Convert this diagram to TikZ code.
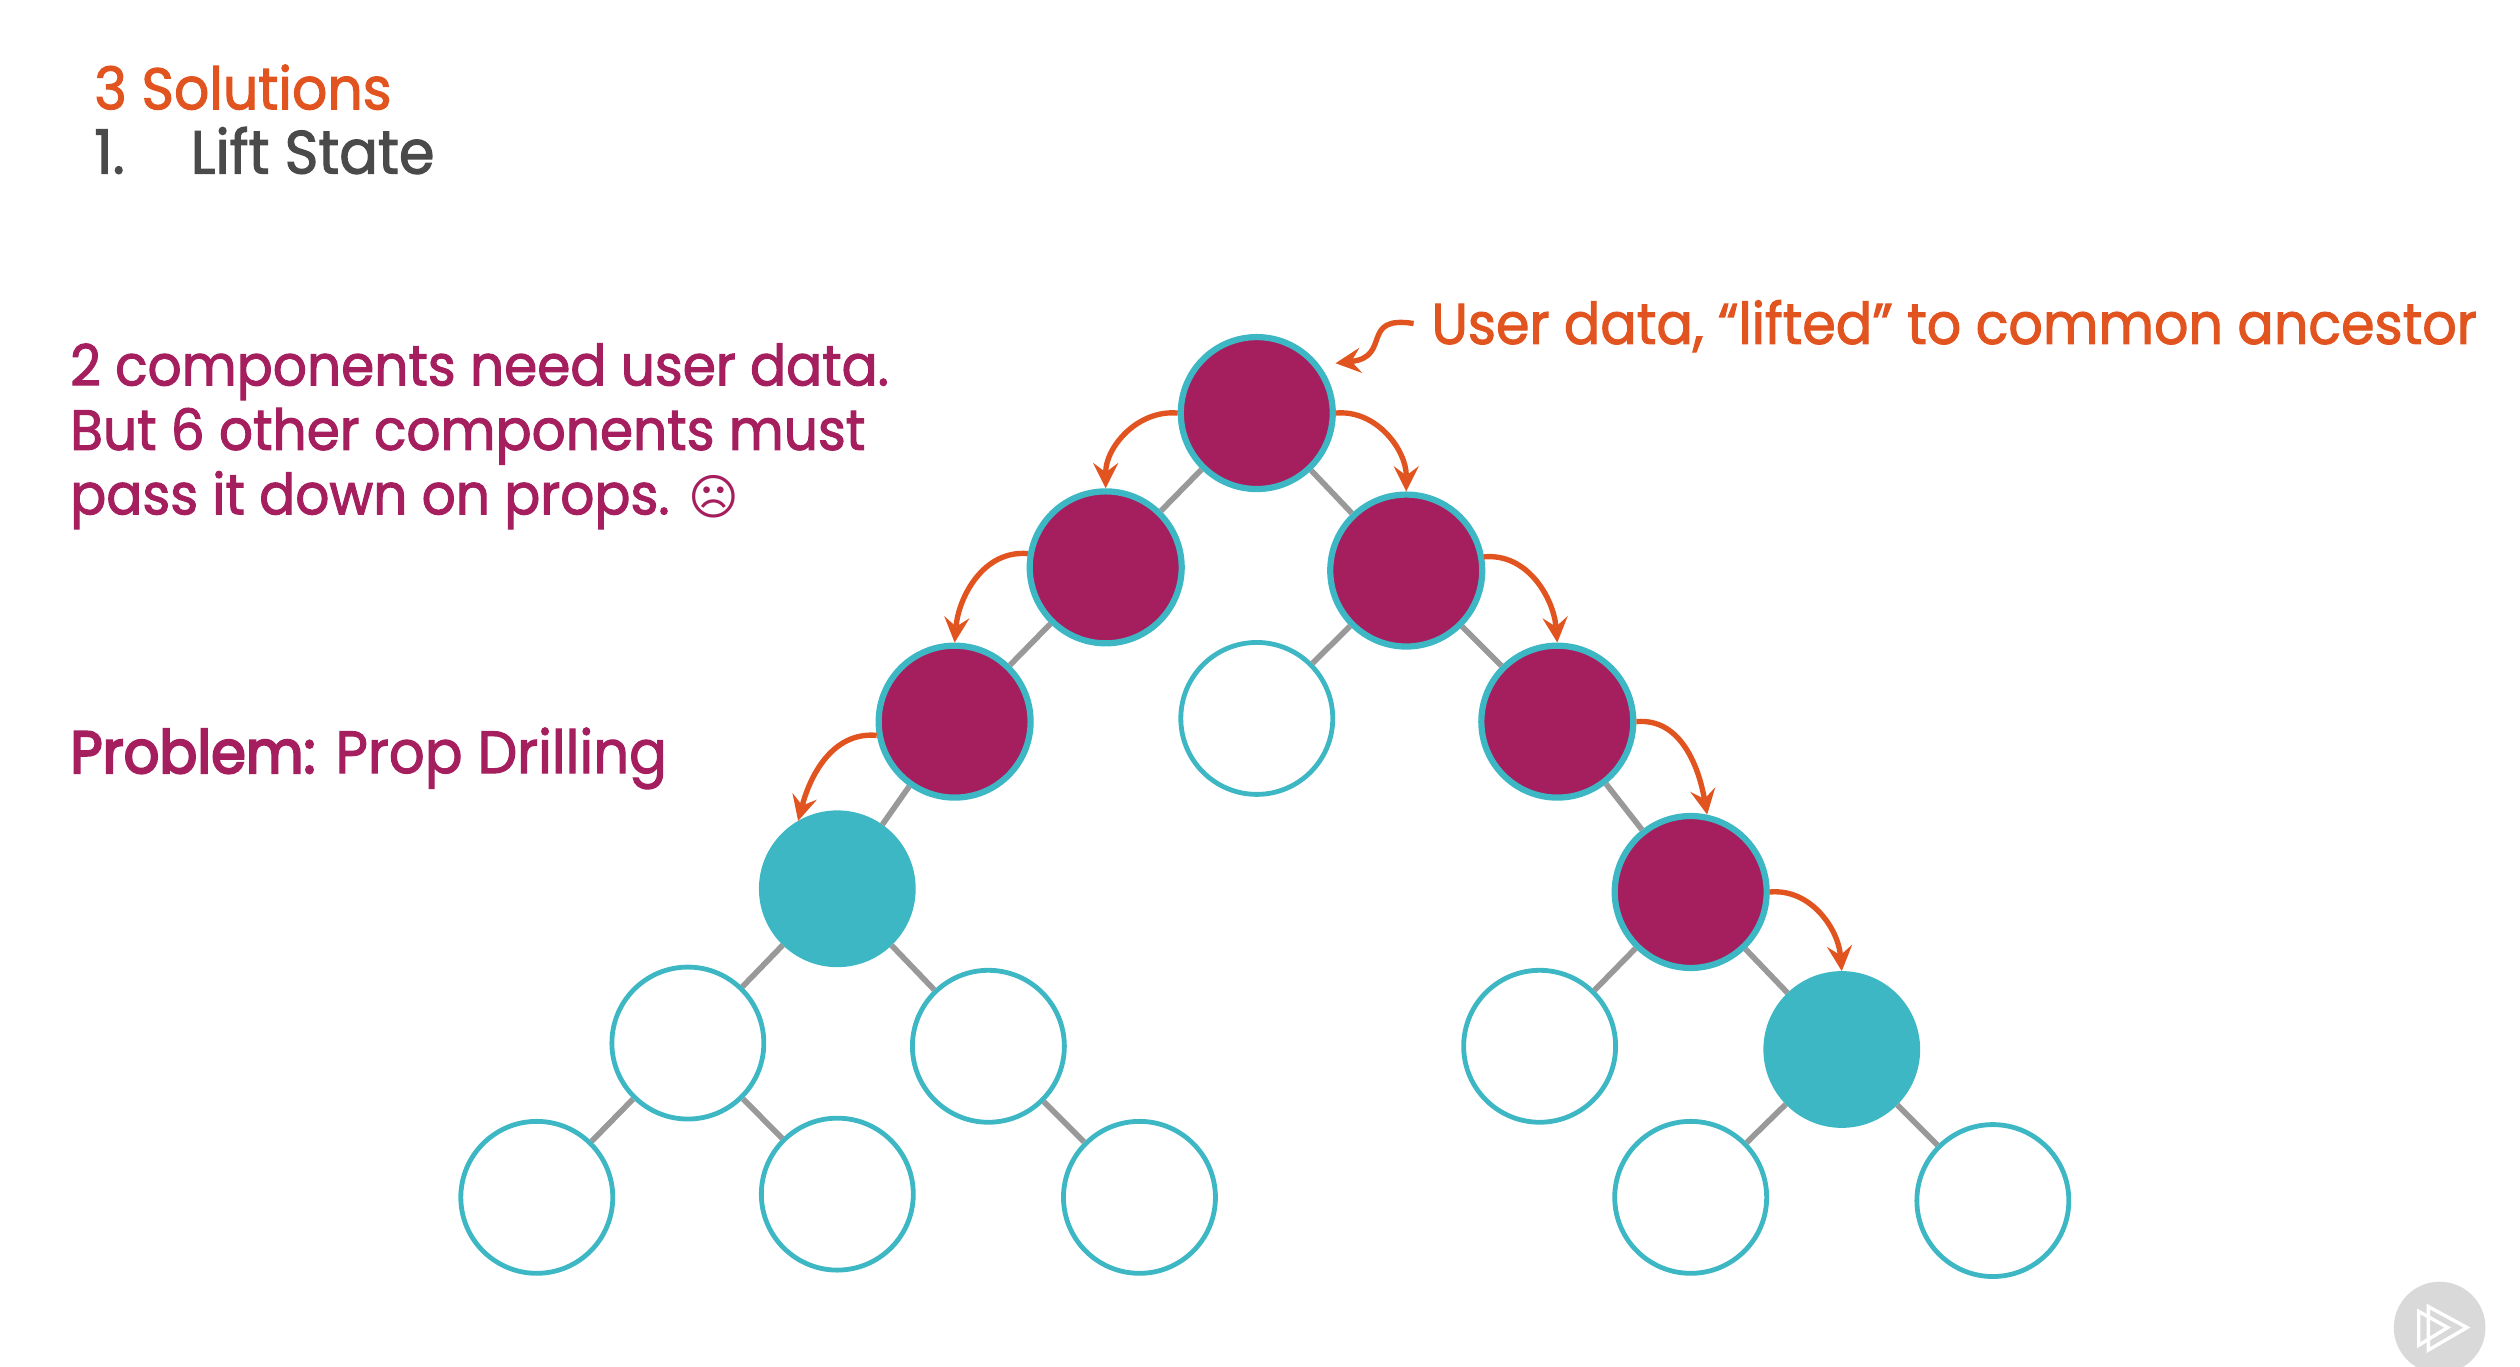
\documentclass[tikz,border=0pt]{standalone}
\usepackage{fontspec}
\setmainfont{Poppins}[FakeStretch=0.94,FakeBold=1.8]
\newfontfamily\heavyfont{Poppins}[FakeStretch=0.94,FakeBold=3.5]
\newfontfamily\facefont{DejaVu Sans}
\definecolor{orangeline}{HTML}{E2541F}
\definecolor{plum}{HTML}{A51F5F}
\definecolor{tealring}{HTML}{3DB7C4}
\definecolor{slate}{HTML}{4A4A4A}
\begin{document}
\begin{tikzpicture}[x=0.01cm, y=0.01cm]
	\tikzstyle{every node}=[inner sep=0pt]
	\tikzstyle{empty}=[circle, draw=tealring, line width=0.85pt, fill=white, minimum size=0.945cm]
	\tikzstyle{passing}=[empty, fill=plum, line width=1.1pt]
	\tikzstyle{needs}=[empty, fill=tealring]
	\tikzstyle{edge}=[draw=black!40, line width=1pt]
	\tikzstyle{flow}=[draw=orangeline, line width=0.95pt, -stealth]
	\tikzstyle{caption}=[anchor=base west, align=left]
	\useasboundingbox (0, 0) rectangle (1568, -850);
	% tree
	\node[passing] (root) at (782, -257) {};
	\node[passing] (A) at (688, -353) {};
	\node[passing] (B) at (875, -355) {};
	\node[passing] (AA) at (594, -449) {};
	\node[empty] (BA) at (782, -447) {};
	\node[passing] (BB) at (969, -449) {};
	\node[needs] (userA) at (521, -553) {};
	\node[passing] (BBB) at (1052, -555) {};
	\node[empty] (C) at (428, -649) {};
	\node[empty] (D) at (615, -651) {};
	\node[empty] (E) at (958, -651) {};
	\node[needs] (userB) at (1146, -653) {};
	\node[empty] (CA) at (334, -745) {};
	\node[empty] (CB) at (521, -743) {};
	\node[empty] (DB) at (709, -745) {};
	\node[empty] (FA) at (1052, -745) {};
	\node[empty] (FB) at (1240, -747) {};
	\draw [edge] (root) -- (A);
	\draw [edge] (root) -- (B);
	\draw [edge] (A) -- (AA);
	\draw [edge] (B) -- (BA);
	\draw [edge] (B) -- (BB);
	\draw [edge] (AA) -- (userA);
	\draw [edge] (BB) -- (BBB);
	\draw [edge] (userA) -- (C);
	\draw [edge] (userA) -- (D);
	\draw [edge] (BBB) -- (E);
	\draw [edge] (BBB) -- (userB);
	\draw [edge] (C) -- (CA);
	\draw [edge] (C) -- (CB);
	\draw [edge] (D) -- (DB);
	\draw [edge] (userB) -- (FA);
	\draw [edge] (userB) -- (FB);
	% props going down
	\draw [flow] (root.west) to[out=175, in=90] (A.north);
	\draw [flow] (root.east) to[out=5, in=90] (B.north);
	\draw [flow] (A.170) to[out=175, in=85] (AA.north);
	\draw [flow] (B.10) to[out=5, in=95] (BB.north);
	\draw [flow] (AA.190) to[out=175, in=75] (userA.120);
	\draw [flow] (BB.east) to[out=5, in=100] (BBB.78);
	\draw [flow] (BBB.east) to[out=5, in=95] (userB.north);
	% texts
	\node[caption, text=orangeline, font=\fontsize{10.4}{11.4}\selectfont] (title) at (58, -68) {3 Solutions};
	\node[caption, text=slate, font=\fontsize{10.8}{11.4}\selectfont] (num) at (58, -108) {1.};
	\node[caption, text=slate, font=\fontsize{10.8}{11.4}\selectfont] (lift) at (118, -108) {Lift State};
	\node[caption, text=plum, font=\fontsize{10.05}{11.4}\selectfont] (need) at (43, -320) {2 components need user data.\\But 6 other components must\\pass it down on props. {\facefont\fontsize{8.6}{11.4}\selectfont\char"2639}};
	\node[caption, text=plum, font=\fontsize{10.55}{11.4}\selectfont] (problem) at (43, -481) {{\heavyfont Problem:} Prop Drilling};
	\node[caption, text=orangeline, font=\fontsize{10.15}{11.4}\selectfont] (lifted) at (890, -214) {User data, “lifted” to common ancestor};
	\coordinate (tip) at (831, -226);
	\draw [flow, shorten <=3pt] (lifted.west) .. controls (846, -196) and (866, -222) .. (tip);
	% player mark
	\node[circle, fill=black!15, minimum size=0.57cm] (play) at (1518, -826) {};
	\draw [white, line width=0.6pt] (1511, -813) -- (1535, -826) -- (1511, -840) -- cycle;
	\draw [white, line width=0.6pt] (1505, -816) -- (1523, -826) -- (1505, -837) -- cycle;
\end{tikzpicture}
\end{document}
